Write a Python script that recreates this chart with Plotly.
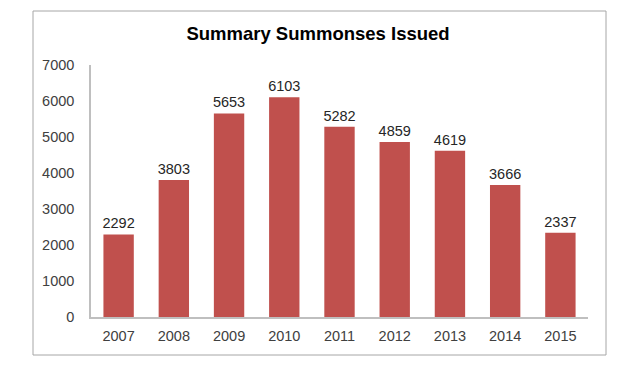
import plotly.graph_objects as go

years = ["2007", "2008", "2009", "2010", "2011", "2012", "2013", "2014", "2015"]
summonses = [2292, 3803, 5653, 6103, 5282, 4859, 4619, 3666, 2337]
y_ticks = [0, 1000, 2000, 3000, 4000, 5000, 6000, 7000]

OFF = 8  # page body margin
W, H = 635, 370
L, R, T, B = 91 - OFF, 47 + OFF, 65 - OFF, 53 + OFF
pw, ph = W - L - R, H - T - B

def px(x):
    return (x - OFF - L) / pw

def py(y):
    return (H - B - (y - OFF)) / ph

FONT = "Arial, Liberation Sans"

fig = go.Figure(go.Bar(
    x=years, y=summonses,
    marker=dict(color="#C0504D", line=dict(width=0)),
    text=[str(v) for v in summonses], textposition="outside",
    constraintext="none",
    textfont=dict(family=FONT, size=14.5, color="#262626"),
    cliponaxis=False,
))

fig.add_shape(type="rect", xref="paper", yref="paper",
              x0=px(33), x1=px(606), y0=py(355), y1=py(11),
              line=dict(color="#A6A6A6", width=1), fillcolor="rgba(0,0,0,0)", layer="below")

fig.update_layout(
    width=W, height=H,
    margin=dict(l=L, r=R, t=T, b=B),
    paper_bgcolor="white", plot_bgcolor="white",
    bargap=0.45,
    showlegend=False,
    title=dict(text="<b>Summary Summonses Issued</b>", x=(318 - OFF) / W, xanchor="center",
               y=1 - (34 - OFF) / H, yanchor="middle",
               font=dict(family=FONT, size=18.5, color="#000000")),
    xaxis=dict(showline=True, linecolor="#BFBFBF", linewidth=1.5, ticks="",
               tickfont=dict(family=FONT, size=14.5, color="#404040"),
               ticklabelstandoff=5, showgrid=False),
    yaxis=dict(range=[0, 7000], tickvals=y_ticks, showline=True, linecolor="#BFBFBF",
               linewidth=1.5, ticks="", showgrid=False, zeroline=False,
               tickfont=dict(family=FONT, size=14.5, color="#404040"),
               ticklabelstandoff=12),
)

fig.write_html("out.html")
